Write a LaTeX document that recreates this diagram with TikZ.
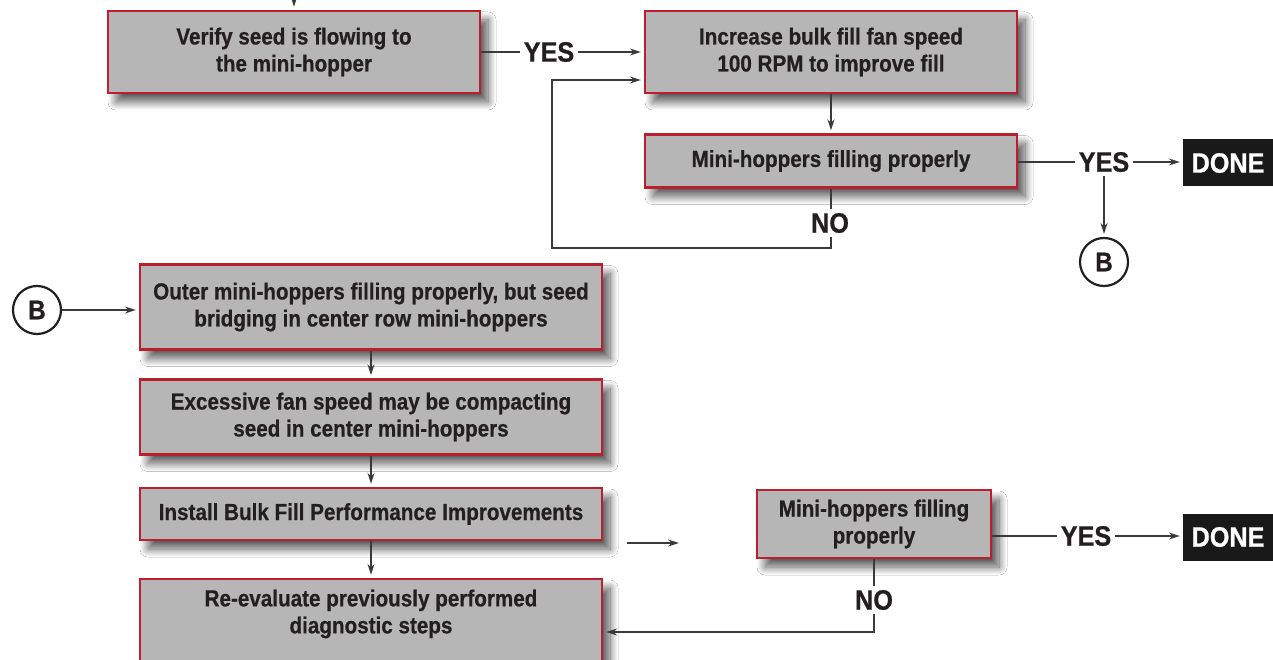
\documentclass[tikz,border=0pt]{standalone}
\usepackage{fontspec}
\setmainfont{Liberation Sans}[FakeStretch=0.89, BoldFeatures={FakeBold=0.6}]
\newfontfamily\lblfont{Liberation Sans}[FakeStretch=0.9, BoldFeatures={FakeBold=0.8}]
\usetikzlibrary{arrows.meta,shadows.blur}
\definecolor{boxgray}{HTML}{B5B6B5}
\definecolor{boxred}{HTML}{BA1F2E}
\definecolor{ink}{HTML}{231F20}
\definecolor{linegray}{HTML}{3A3A3A}
\begin{document}
\begin{tikzpicture}[x=1pt,y=-1pt,
  stepbox/.style={draw=boxred, line width=2.4pt, fill=boxgray, text=ink,
    font=\fontsize{23.2}{27}\selectfont\bfseries, align=center, inner sep=0pt,
    blur shadow={shadow xshift=8pt, shadow yshift=-9pt, shadow blur radius=8pt, shadow blur steps=16, shadow opacity=65}},
  lbl/.style={font=\lblfont\fontsize{28}{30}\selectfont\bfseries, text=ink, inner sep=4pt, fill=white},
  donebox/.style={fill=black!90, text=white, font=\lblfont\fontsize{28}{30}\selectfont\bfseries,
    minimum width=90pt, minimum height=47pt, inner sep=0pt},
  conn/.style={draw=linegray, line width=1.3pt},
  arr/.style={conn, -{Stealth[length=11pt,width=7pt]}, shorten >=3pt},
  circ/.style={circle, draw=ink, line width=2.2pt, fill=white, minimum size=48pt, inner sep=0pt,
    font=\lblfont\fontsize{27}{28}\selectfont\bfseries, text=ink}]
\fill[white] (0,0) rectangle (1273,660);
\useasboundingbox (0,0) rectangle (1273,660);

% nodes
\node[stepbox, minimum width=372pt, minimum height=82pt] (box1) at (294,52) {Verify seed is flowing to\\the mini-hopper};
\node[stepbox, minimum width=372pt, minimum height=82pt] (box2) at (831,52) {Increase bulk fill fan speed\\100 RPM to improve fill};
\node[stepbox, minimum width=372pt, minimum height=53pt] (box3) at (831,161) {Mini-hoppers filling properly};
\node[lbl] (yes1) at (549,52) {YES};
\node[lbl] (no1) at (830,223) {NO};
\node[lbl] (yes2) at (1104,162) {YES};
\node[donebox] (done1) at (1228,163) {DONE};
\node[circ] (b1) at (1104,262) {B};

\node[circ] (b2) at (37,310) {B};
\node[stepbox, minimum width=462pt, minimum height=85pt] (box4) at (371,307) {Outer mini-hoppers filling properly, but seed\\bridging in center row mini-hoppers};
\node[stepbox, minimum width=462pt, minimum height=75pt] (box5) at (371,417) {Excessive fan speed may be compacting\\seed in center mini-hoppers};
\node[stepbox, minimum width=462pt, minimum height=52pt] (box6) at (371,514) {Install Bulk Fill Performance Improvements};
\node[stepbox, minimum width=462pt, minimum height=100pt] (box7) at (371,629) {Re-evaluate previously performed\\diagnostic steps\\ \strut};
\node[stepbox, minimum width=234pt, minimum height=68pt] (box8) at (874,524) {Mini-hoppers filling\\properly};
\node[lbl] (yes3) at (1086,536) {YES};
\node[donebox] (done2) at (1228,537) {DONE};
\node[lbl] (no2) at (874,600) {NO};

\coordinate (top) at (294,0);
\coordinate (lp1) at (552,248);
\coordinate (lp2) at (552,80);
\coordinate (s1) at (627,543);
\coordinate (s2) at (682,543);
\coordinate (r1) at (874,632);

% connectors
\draw[arr] (top) -- (box1.north);
\draw[conn] (box1.east) -- (yes1.west);
\draw[arr] (yes1.east) -- (box2.west);
\draw[arr] (box2.south) -- (box3.north);
\draw[conn] (box3.south) -- (no1.north -| box3.south);
\draw[arr] (no1.south -| box3.south) |- (lp1) -- (lp2) -- (lp2 -| box2.west);
\draw[conn] (box3.east |- yes2.west) -- (yes2.west);
\draw[arr] (yes2.east) -- (yes2.east -| done1.west);
\draw[arr] (yes2.south) -- (b1.north);

\draw[arr] (b2.east) -- (b2.east -| box4.west);
\draw[arr] (box4.south) -- (box5.north);
\draw[arr] (box5.south) -- (box6.north);
\draw[arr] (box6.south) -- (box7.north);
\draw[arr] (s1) -- (s2);
\draw[conn] (box8.east |- yes3.west) -- (yes3.west);
\draw[arr] (yes3.east) -- (yes3.east -| done2.west);
\draw[conn] (box8.south) -- (no2.north);
\draw[arr] (no2.south) -- (r1) -- (r1 -| box7.east);
\end{tikzpicture}
\end{document}
